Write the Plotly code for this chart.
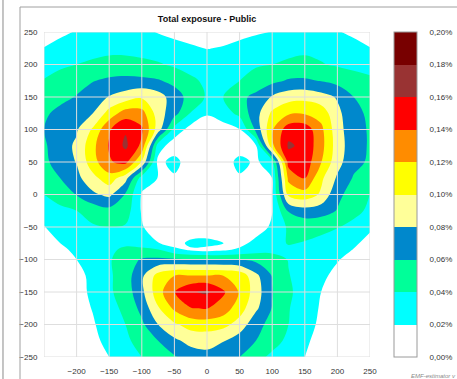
import plotly.graph_objects as go

# Calculation grid, metres east / north of the site centre
x_m = [-250, -225, -200, -175, -150, -125, -100, -75, -50, -25, 0,
       25, 50, 75, 100, 125, 150, 175, 200, 225, 250]
y_m = [-250, -225, -200, -175, -150, -125, -100, -85, -75, -50, -25, 0,
       25, 50, 75, 100, 125, 150, 175, 200, 225, 250]

# Total exposure (% of public reference level), one list per northing, west -> east
exp_s250 = [0.001, 0.002, 0.007, 0.013, 0.020, 0.030, 0.040, 0.050, 0.058, 0.070, 0.074, 0.068, 0.060, 0.046, 0.036, 0.027, 0.020, 0.013, 0.007, 0.004, 0.002]
exp_s225 = [0.001, 0.003, 0.008, 0.014, 0.027, 0.036, 0.048, 0.060, 0.076, 0.086, 0.087, 0.081, 0.069, 0.060, 0.047, 0.036, 0.023, 0.014, 0.009, 0.005, 0.003]
exp_s200 = [0.001, 0.004, 0.010, 0.018, 0.030, 0.040, 0.056, 0.080, 0.097, 0.108, 0.110, 0.106, 0.092, 0.066, 0.054, 0.040, 0.028, 0.016, 0.010, 0.006, 0.003]
exp_s175 = [0.002, 0.005, 0.012, 0.021, 0.034, 0.044, 0.066, 0.098, 0.124, 0.139, 0.141, 0.131, 0.109, 0.084, 0.059, 0.041, 0.030, 0.018, 0.012, 0.007, 0.004]
exp_s150 = [0.003, 0.006, 0.013, 0.024, 0.037, 0.049, 0.075, 0.112, 0.139, 0.158, 0.163, 0.143, 0.118, 0.090, 0.061, 0.043, 0.032, 0.020, 0.013, 0.008, 0.005]
exp_s125 = [0.004, 0.008, 0.015, 0.024, 0.037, 0.050, 0.076, 0.108, 0.120, 0.121, 0.121, 0.120, 0.114, 0.085, 0.059, 0.041, 0.031, 0.023, 0.016, 0.011, 0.007]
exp_s100 = [0.008, 0.014, 0.020, 0.029, 0.038, 0.050, 0.062, 0.064, 0.063, 0.062, 0.062, 0.061, 0.059, 0.055, 0.050, 0.039, 0.031, 0.026, 0.021, 0.015, 0.010]
exp_s085 = [0.008, 0.016, 0.024, 0.030, 0.037, 0.043, 0.044, 0.041, 0.026, 0.017, 0.013, 0.016, 0.024, 0.032, 0.034, 0.037, 0.037, 0.031, 0.025, 0.0195, 0.013]
exp_s075 = [0.010, 0.020, 0.027, 0.032, 0.036, 0.037, 0.032, 0.021, 0.011, 0.025, 0.027, 0.0205, 0.013, 0.027, 0.034, 0.041, 0.039, 0.035, 0.029, 0.022, 0.016]
exp_s050 = [0.019, 0.027, 0.033, 0.038, 0.040, 0.038, 0.022, 0.006, 0.003, 0.003, 0.003, 0.003, 0.004, 0.008, 0.024, 0.043, 0.046, 0.045, 0.041, 0.034, 0.022]
exp_s025 = [0.030, 0.036, 0.040, 0.048, 0.053, 0.050, 0.018, 0.005, 0.003, 0.002, 0.002, 0.003, 0.004, 0.008, 0.019, 0.062, 0.072, 0.069, 0.059, 0.046, 0.036]
exp_0000 = [0.040, 0.048, 0.061, 0.076, 0.085, 0.058, 0.018, 0.006, 0.003, 0.002, 0.002, 0.003, 0.005, 0.012, 0.020, 0.105, 0.112, 0.097, 0.064, 0.053, 0.039]
exp_n025 = [0.047, 0.060, 0.074, 0.094, 0.111, 0.087, 0.030, 0.0195, 0.017, 0.003, 0.003, 0.004, 0.017, 0.0195, 0.020, 0.125, 0.140, 0.104, 0.077, 0.058, 0.049]
exp_n050 = [0.056, 0.068, 0.081, 0.112, 0.138, 0.146, 0.098, 0.014, 0.027, 0.008, 0.003, 0.008, 0.027, 0.016, 0.035, 0.148, 0.152, 0.121, 0.087, 0.066, 0.057]
exp_n075 = [0.057, 0.072, 0.083, 0.115, 0.142, 0.164, 0.135, 0.030, 0.008, 0.006, 0.005, 0.007, 0.008, 0.018, 0.115, 0.163, 0.155, 0.127, 0.090, 0.068, 0.058]
exp_n100 = [0.060, 0.072, 0.078, 0.103, 0.138, 0.158, 0.143, 0.090, 0.033, 0.012, 0.008, 0.012, 0.019, 0.065, 0.118, 0.152, 0.152, 0.125, 0.088, 0.067, 0.058]
exp_n125 = [0.057, 0.065, 0.074, 0.080, 0.108, 0.130, 0.128, 0.090, 0.067, 0.039, 0.022, 0.030, 0.046, 0.072, 0.104, 0.117, 0.118, 0.112, 0.085, 0.066, 0.056]
exp_n150 = [0.050, 0.055, 0.061, 0.072, 0.081, 0.089, 0.097, 0.089, 0.070, 0.052, 0.038, 0.040, 0.055, 0.065, 0.082, 0.092, 0.094, 0.088, 0.078, 0.060, 0.052]
exp_n175 = [0.041, 0.047, 0.054, 0.059, 0.064, 0.066, 0.065, 0.062, 0.054, 0.044, 0.036, 0.035, 0.040, 0.048, 0.055, 0.062, 0.063, 0.059, 0.053, 0.048, 0.044]
exp_n200 = [0.033, 0.037, 0.040, 0.043, 0.045, 0.045, 0.044, 0.042, 0.037, 0.032, 0.028, 0.030, 0.034, 0.038, 0.040, 0.043, 0.044, 0.041, 0.038, 0.035, 0.032]
exp_n225 = [0.0205, 0.025, 0.030, 0.034, 0.036, 0.036, 0.034, 0.030, 0.025, 0.022, 0.0195, 0.021, 0.024, 0.028, 0.032, 0.035, 0.037, 0.036, 0.031, 0.025, 0.0205]
exp_n250 = [0.012, 0.017, 0.021, 0.025, 0.027, 0.027, 0.024, 0.019, 0.016, 0.014, 0.013, 0.014, 0.016, 0.018, 0.0205, 0.024, 0.027, 0.026, 0.021, 0.017, 0.012]

exposure = [exp_s250, exp_s225, exp_s200, exp_s175, exp_s150, exp_s125, exp_s100,
            exp_s085, exp_s075, exp_s050, exp_s025, exp_0000, exp_n025, exp_n050,
            exp_n075, exp_n100, exp_n125, exp_n150, exp_n175, exp_n200, exp_n225,
            exp_n250]

# Legend classes (0.02 % wide), low -> high
band_colors = ["#FFFFFF", "#00FFFF", "#00FF99", "#0088CC", "#FFFF99",
               "#FFFF00", "#FF8C00", "#FF0000", "#993333", "#780000"]
legend_vals = [0.00, 0.02, 0.04, 0.06, 0.08, 0.10, 0.12, 0.14, 0.16, 0.18, 0.20]
legend_text = ["0,00%", "0,02%", "0,04%", "0,06%", "0,08%", "0,10%",
               "0,12%", "0,14%", "0,16%", "0,18%", "0,20%"]

x_ticks = [-200, -150, -100, -50, 0, 50, 100, 150, 200, 250]
y_ticks = [-250, -200, -150, -100, -50, 0, 50, 100, 150, 200, 250]
grid_m = [-250, -200, -150, -100, -50, 0, 50, 100, 150, 200, 250]

# stepped colour scale: one flat block per class
n_cls = len(band_colors)
colorscale = []
for i, c in enumerate(band_colors):
    colorscale.append([i / n_cls, c])
    colorscale.append([(i + 1) / n_cls, c])

tick_font = dict(family="Liberation Sans, Arial, sans-serif", size=8, color="#333333")

fig = go.Figure()
fig.add_trace(go.Contour(
    x=x_m, y=y_m, z=exposure,
    zmin=legend_vals[0], zmax=legend_vals[-1],
    autocontour=False,
    contours=dict(start=legend_vals[0], end=legend_vals[-1],
                  size=legend_vals[1] - legend_vals[0], coloring="fill"),
    line=dict(width=0, smoothing=1.0),
    colorscale=colorscale,
    hoverinfo="skip",
    colorbar=dict(
        x=1.0736, xanchor="left", xpad=0,
        y=0.5, yanchor="middle", ypad=0,
        len=1.0, lenmode="fraction", thickness=23,
        outlinewidth=1, outlinecolor="#9a9a9a",
        tickvals=legend_vals, ticktext=legend_text,
        ticks="outside", ticklen=11, tickcolor="rgba(0,0,0,0)",
        tickfont=tick_font,
    ),
))

# light grid drawn over the filled contours
grid_color = "#dedede"
shapes = []
for g in grid_m:
    shapes.append(dict(type="line", xref="x", yref="y", x0=g, x1=g,
                       y0=grid_m[0], y1=grid_m[-1], layer="above",
                       line=dict(color=grid_color, width=1)))
    shapes.append(dict(type="line", xref="x", yref="y", y0=g, y1=g,
                       x0=grid_m[0], x1=grid_m[-1], layer="above",
                       line=dict(color=grid_color, width=1)))

# window frame around the chart panel
shapes.append(dict(type="line", xref="paper", yref="paper",
                   x0=-0.0736, x1=1.27, y0=1.0769, y1=1.0769,
                   line=dict(color="#a0a0a0", width=1)))
shapes.append(dict(type="line", xref="paper", yref="paper",
                   x0=-0.0736, x1=-0.0736, y0=-0.07, y1=1.0769,
                   line=dict(color="#a0a0a0", width=1)))
shapes.append(dict(type="line", xref="paper", yref="paper",
                   x0=-0.1258, x1=-0.1258, y0=-0.07, y1=1.10,
                   line=dict(color="#8a8a8a", width=1)))

fig.update_layout(
    width=457, height=379,
    margin=dict(l=44, r=87, t=32, b=22, autoexpand=False),
    paper_bgcolor="white", plot_bgcolor="white",
    title=dict(text="<b>Total exposure - Public</b>", x=0.453, xanchor="center",
               y=0.95, yanchor="middle",
               font=dict(family="Liberation Sans, Arial, sans-serif", size=9, color="#111111")),
    xaxis=dict(range=[-250, 250], tickvals=x_ticks, showgrid=False, zeroline=False,
               showline=False, ticks="outside", ticklen=6, tickcolor="rgba(0,0,0,0)",
               tickfont=tick_font),
    yaxis=dict(range=[-250, 250], tickvals=y_ticks, showgrid=False, zeroline=False,
               showline=False, ticks="outside", ticklen=4, tickcolor="rgba(0,0,0,0)",
               tickfont=tick_font),
    shapes=shapes,
    annotations=[dict(text="<i>EMF-estimator v</i>", xref="paper", yref="paper",
                      x=1.119, y=-0.058, xanchor="left", yanchor="middle",
                      showarrow=False,
                      font=dict(family="Liberation Sans, Arial, sans-serif", size=6, color="#8a8a8a"))],
)

fig.write_html("out.html")
